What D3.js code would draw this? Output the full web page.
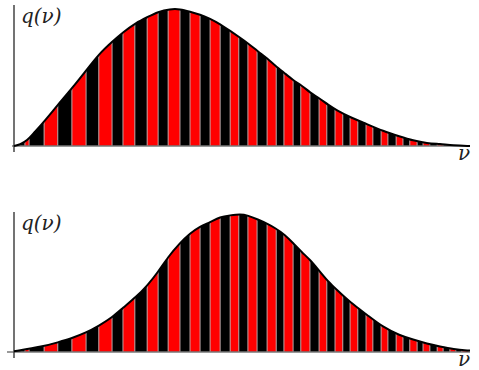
<!DOCTYPE html>
<html>
<head>
<meta charset="utf-8">
<script src="https://cdn.jsdelivr.net/npm/d3@7"></script>
<style>
  body { margin: 0; background: #fff; }
  svg { display: block; }
</style>
</head>
<body>
<script>
// curve samples (nu, q), q normalised to peak = 1
var topNu = [0, 0.13, 0.29, 0.42, 0.64, 0.96, 1.27, 1.58, 1.86, 2.15, 2.39, 2.68, 2.92, 3.16, 3.42, 3.64,
             3.86, 4.08, 4.30, 4.52, 4.74, 4.96, 5.13, 5.35, 5.55, 5.72, 5.94, 6.12, 6.32, 6.49, 6.69,
             6.89, 7.08, 7.37, 7.74, 8.09, 8.46, 8.75, 9.06, 9.34, 9.63, 10];
var topQ  = [0, 0.01, 0.04, 0.09, 0.17, 0.30, 0.42, 0.55, 0.67, 0.76, 0.83, 0.90, 0.94, 0.98, 1.00, 1.00,
             0.98, 0.96, 0.93, 0.89, 0.84, 0.79, 0.75, 0.69, 0.64, 0.59, 0.53, 0.48, 0.44, 0.39, 0.35,
             0.30, 0.26, 0.21, 0.16, 0.11, 0.07, 0.04, 0.02, 0.015, 0.005, 0];

var botNu = [0, 0.64, 0.96, 1.27, 1.58, 1.86, 2.15, 2.39, 2.68, 2.92, 3.16, 3.38, 3.64, 3.86, 4.08, 4.30,
             4.52, 4.74, 4.96, 5.13, 5.35, 5.55, 5.72, 5.94, 6.12, 6.32, 6.49, 6.69, 6.89, 7.08, 7.37,
             7.74, 8.09, 8.46, 8.75, 9.06, 9.34, 9.63, 10];
var botQ  = [0.005, 0.04, 0.07, 0.10, 0.14, 0.19, 0.25, 0.32, 0.40, 0.48, 0.58, 0.69, 0.79, 0.86, 0.91, 0.94,
             0.98, 0.99, 1.00, 0.99, 0.96, 0.93, 0.90, 0.85, 0.79, 0.72, 0.67, 0.59, 0.51, 0.45, 0.36,
             0.27, 0.18, 0.12, 0.09, 0.06, 0.04, 0.02, 0.01];

// stripe boundaries along nu (same for both panels), first stripe black
var edges = [0, 0.24, 0.33, 0.66, 0.96, 1.27, 1.58, 1.86, 2.15, 2.39, 2.65, 2.92, 3.16, 3.38, 3.64, 3.86,
             4.08, 4.30, 4.52, 4.74, 4.93, 5.13, 5.33, 5.55, 5.75, 5.92, 6.12, 6.29, 6.49, 6.69, 6.86,
             7.04, 7.21, 7.37, 7.54, 7.72, 7.87, 8.05, 8.20, 8.38, 8.53, 8.68, 8.84, 8.97, 9.12, 9.28,
             9.41, 9.56, 9.69, 9.82, 9.96];

var yLabel = "q(\u03bd)";
var xLabel = "\u03bd";

var width = 479, height = 370;
var svg = d3.select("body").append("svg")
    .attr("width", width)
    .attr("height", height);

var x = d3.scaleLinear().domain([0, 10]).range([14, 470]);

var panels = [
  { nu: topNu, q: topQ, base: 146, top: 9,   axisTop: 5,   axisLeft: 12, id: "a" },
  { nu: botNu, q: botQ, base: 352, top: 214, axisTop: 212, axisLeft: 7,  id: "b" }
];

panels.forEach(function(p) {
  var y = d3.scaleLinear().domain([0, 1]).range([p.base, p.top]);
  var pts = p.nu.map(function(d, i) { return [d, p.q[i]]; });

  var area = d3.area()
      .x(function(d) { return x(d[0]); })
      .y0(y(0))
      .y1(function(d) { return y(d[1]); })
      .curve(d3.curveBasis);
  var line = d3.line()
      .x(function(d) { return x(d[0]); })
      .y(function(d) { return y(d[1]); })
      .curve(d3.curveBasis);

  svg.append("clipPath").attr("id", "clip-" + p.id)
    .append("path").attr("d", area(pts));

  var g = svg.append("g").attr("clip-path", "url(#clip-" + p.id + ")");
  var bins = d3.pairs(edges);
  g.selectAll("rect")
    .data(bins)
    .enter()
    .append("rect")
    .attr("x", function(d) { return x(d[0]); })
    .attr("y", y(1.1))
    .attr("width", function(d) { return x(d[1]) - x(d[0]); })
    .attr("height", y(0) - y(1.1))
    .attr("fill", function(d, i) { return i % 2 ? "#ff0000" : "#000000"; });
  g.selectAll("line")
    .data(edges.slice(1))
    .enter()
    .append("line")
    .attr("x1", function(d) { return x(d); })
    .attr("x2", function(d) { return x(d); })
    .attr("y1", y(1.1))
    .attr("y2", y(0))
    .attr("stroke", "#b9a0a0")
    .attr("stroke-width", 1);

  // axes
  svg.append("line")
    .attr("x1", p.axisLeft).attr("x2", x(10))
    .attr("y1", y(0)).attr("y2", y(0))
    .attr("stroke", "#777").attr("stroke-width", 1.5);
  svg.append("line")
    .attr("x1", x(0)).attr("x2", x(0))
    .attr("y1", p.axisTop).attr("y2", y(0) + 6)
    .attr("stroke", "#444").attr("stroke-width", 1.5);

  svg.append("path")
    .attr("d", line(pts))
    .attr("fill", "none")
    .attr("stroke", "#000")
    .attr("stroke-width", 2);

  svg.append("text")
    .attr("x", x(0) + 7)
    .attr("y", p.axisTop + 18)
    .attr("font-family", "DejaVu Serif, serif")
    .attr("font-style", "italic")
    .attr("font-size", "20px")
    .attr("fill", "#222")
    .text(yLabel);

  svg.append("text")
    .attr("x", x(9.5) + 17)
    .attr("y", y(0) + 14)
    .attr("font-family", "DejaVu Serif, serif")
    .attr("font-style", "italic")
    .attr("font-size", "20px")
    .attr("fill", "#222")
    .attr("text-anchor", "middle")
    .text(xLabel);
});
</script>
</body>
</html>
